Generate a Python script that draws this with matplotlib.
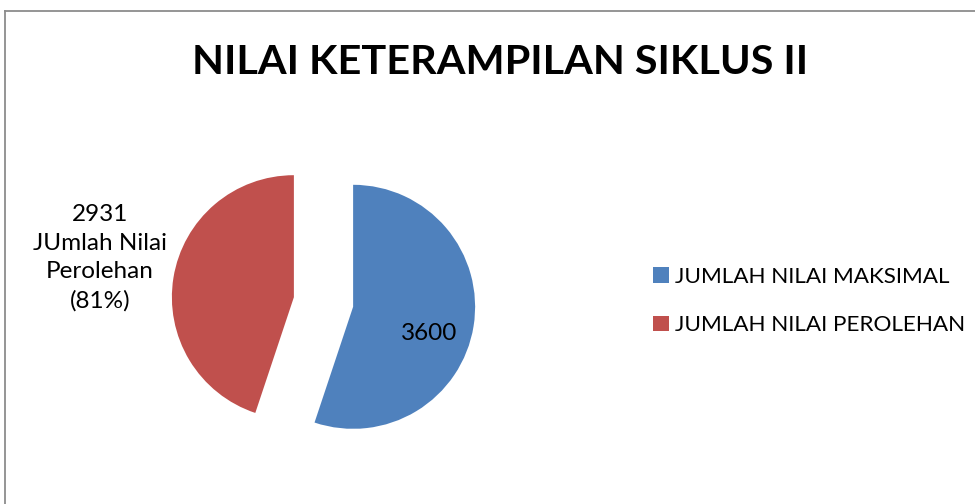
import matplotlib
matplotlib.use("Agg")
import matplotlib.pyplot as plt
from matplotlib.lines import Line2D

# data
categories = ["JUMLAH NILAI MAKSIMAL", "JUMLAH NILAI PEROLEHAN"]
values = [3600, 2931]
data_labels = ["3600", "2931\nJUmlah Nilai\nPerolehan\n(81%)"]
title = "NILAI KETERAMPILAN SIKLUS II"
colors = ["#4F81BD", "#C0504D"]

W, H = 975, 504
fig = plt.figure(figsize=(W / 100, H / 100), dpi=100)
fig.patch.set_facecolor("white")

# frame (chart area border)
fig.add_artist(Line2D([5 / W, 5 / W], [0, 1 - 11 / H], transform=fig.transFigure,
                      color="#8c8c8c", lw=1.3))
fig.add_artist(Line2D([5 / W, 1], [1 - 11 / H, 1 - 11 / H], transform=fig.transFigure,
                      color="#8c8c8c", lw=1.3))

ax = fig.add_axes([0, 0, 1, 1])

FONT = "Lato"

# pie: center (in pixel-like data coords, y inverted), clockwise from top
cx, cy = 323.5, 302
R = 122
wedges, _ = ax.pie(values, colors=colors, startangle=-90, counterclock=True,
                   center=(cx, cy), radius=R, explode=[30, 30],
                   wedgeprops=dict(linewidth=0), frame=True)
ax.set_xlim(0, W)
ax.set_ylim(H, 0)
ax.set_aspect("equal")
ax.axis("off")

ax.text(429, 333, data_labels[0], ha="center", va="center", fontsize=17.5,
        family=FONT, color="black")
ax.text(100, 258, data_labels[1], ha="center", va="center", fontsize=17.5,
        family=FONT, color="black", linespacing=1.45)

ax.text(500, 62, title, ha="center", va="center", fontsize=29.8,
        family=FONT, weight="bold", color="black")

leg = ax.legend(wedges, categories, loc="center left",
                bbox_to_anchor=(653 / W, 1 - 301 / H), frameon=False,
                prop={"family": FONT, "size": 16.2},
                handlelength=0.7, handleheight=0.7, handletextpad=0.27,
                labelspacing=1.27, borderpad=0, borderaxespad=0)

fig.savefig("out.png", dpi=100, facecolor="white")
